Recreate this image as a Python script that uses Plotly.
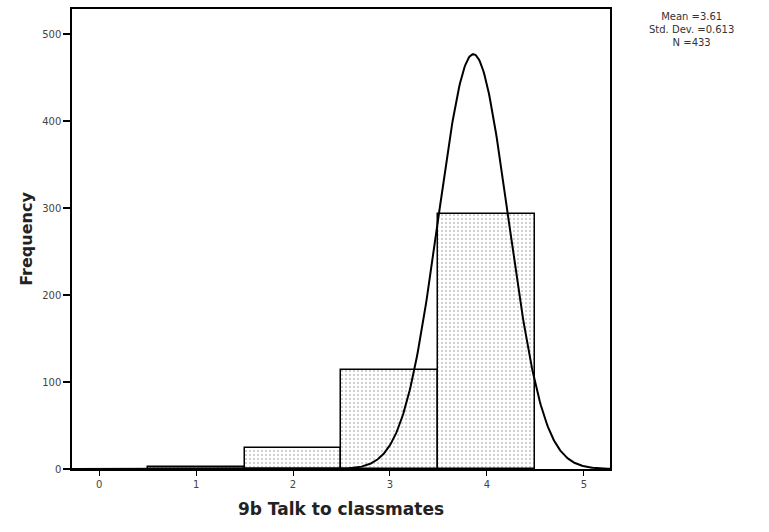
import numpy as np
import plotly.graph_objects as go

# Histogram data
bin_centers = [1, 2, 3, 4]
frequencies = [2, 24, 114, 293]
x_tick_vals = [0, 1, 2, 3, 4, 5]
y_tick_vals = [0, 100, 200, 300, 400, 500]
stats_text = ["Mean =3.61", "Std. Dev. =0.613", "N =433"]

# Drawn normal curve parameters (as seen on the picture)
curve_mean = 3.86
curve_sd = 0.36
curve_peak = 477

xs = np.linspace(-0.28, 5.27, 600)
ys = curve_peak * np.exp(-0.5 * ((xs - curve_mean) / curve_sd) ** 2)

fig = go.Figure()
fig.add_trace(go.Bar(
    x=bin_centers, y=frequencies, width=1,
    marker=dict(
        color="white",
        line=dict(color="black", width=1.5),
        pattern=dict(shape=".", fgcolor="#888888", bgcolor="white",
                     size=4, solidity=0.22, fillmode="overlay"),
    ),
    showlegend=False, hoverinfo="skip",
))
fig.add_trace(go.Scatter(
    x=xs, y=ys, mode="lines",
    line=dict(color="black", width=2),
    showlegend=False, hoverinfo="skip",
))

fig.update_layout(
    width=769, height=532,
    margin=dict(l=72, r=159, t=7, b=63),
    plot_bgcolor="white", paper_bgcolor="white",
    font=dict(family="DejaVu Sans", color="#333333"),
    bargap=0,
    annotations=[dict(
        xref="paper", yref="paper", x=1.152, y=1.0,
        xanchor="center", yanchor="top",
        text="<br>".join(stats_text), showarrow=False, align="center",
        font=dict(size=10, color="#333333", family="DejaVu Sans"),
    )],
)
fig.update_xaxes(
    range=[-0.28, 5.27], tickvals=x_tick_vals,
    ticks="outside", ticklen=5, tickwidth=1.2, tickcolor="black",
    showgrid=False, zeroline=False,
    showline=True, linecolor="black", linewidth=1.5, mirror=True,
    tickfont=dict(size=10, color="#444444"),
    title=dict(text="<b>9b Talk to classmates</b>", font=dict(size=17, color="#222222"), standoff=14),
)
fig.update_yaxes(
    range=[0, 529], tickvals=y_tick_vals,
    ticks="outside", ticklen=7, tickwidth=1.5, tickcolor="black",
    showgrid=False, zeroline=False,
    showline=True, linecolor="black", linewidth=1.5, mirror=True,
    tickfont=dict(size=10, color="#444444"),
    title=dict(text="<b>Frequency</b>", font=dict(size=16, color="#222222"), standoff=6),
)

fig.write_html("out.html")
